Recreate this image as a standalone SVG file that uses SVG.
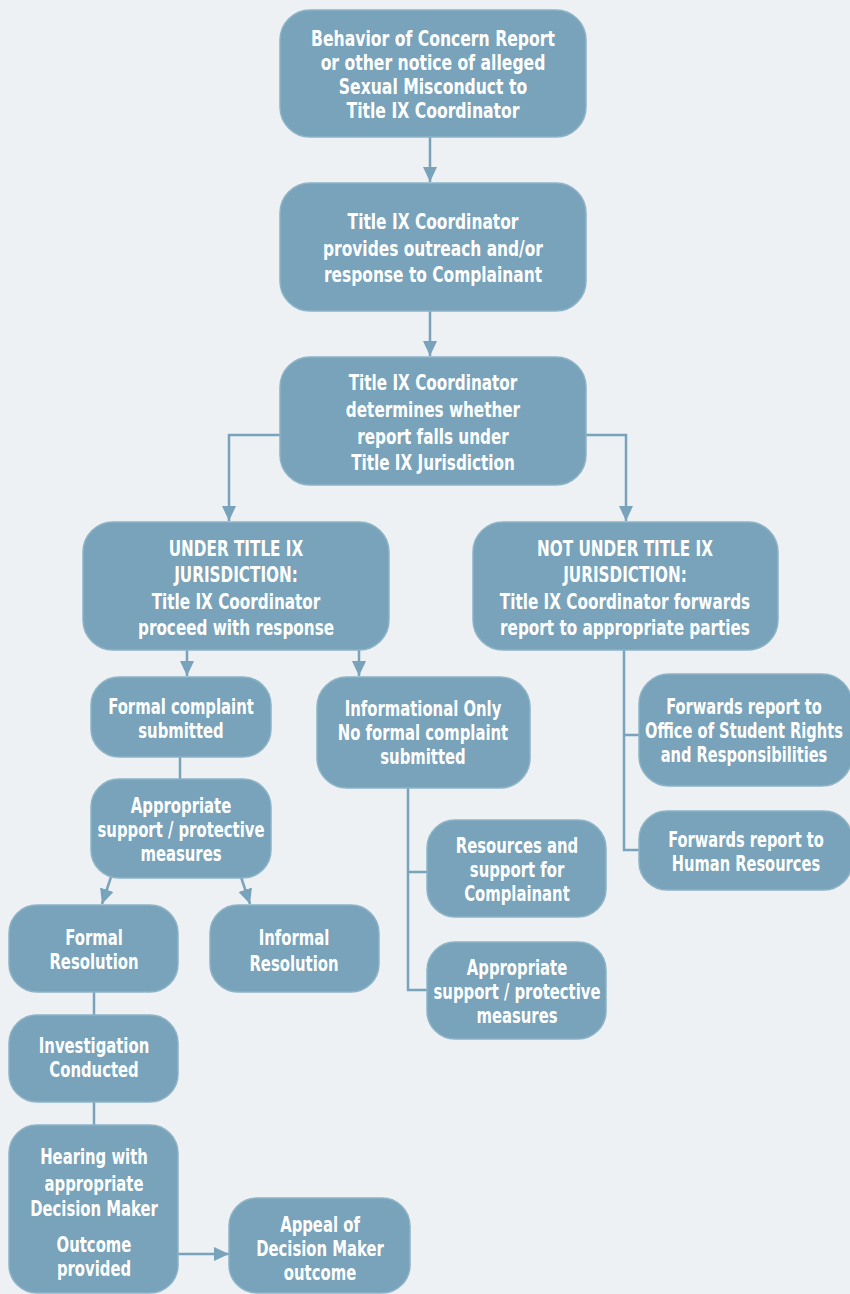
<svg xmlns="http://www.w3.org/2000/svg" width="850" height="1294" viewBox="0 0 850 1294">
<defs>
<style>
.box{fill:#78a3ba;stroke:#8db3c6;stroke-width:1.5}
.t{font-family:"DejaVu Sans",sans-serif;font-stretch:condensed;font-size:22px;font-weight:bold;fill:#ffffff;text-anchor:middle}
.c{stroke:#78a3ba;stroke-width:2.5;fill:none}
</style>
<marker id="ah" markerWidth="15" markerHeight="14" refX="15" refY="7" orient="auto" markerUnits="userSpaceOnUse"><path d="M0,0 L15,7 L0,14 z" fill="#78a3ba"/></marker>
</defs>
<rect width="850" height="1294" fill="#edf1f4"/>
<g id="connectors">
<path class="c" d="M430,137 V182" marker-end="url(#ah)"/>
<path class="c" d="M430,311 V356" marker-end="url(#ah)"/>
<path class="c" d="M280,435 H229 V521" marker-end="url(#ah)"/>
<path class="c" d="M586,435 H626 V521" marker-end="url(#ah)"/>
<path class="c" d="M187,650 V676" marker-end="url(#ah)"/>
<path class="c" d="M359,650 V676" marker-end="url(#ah)"/>
<path class="c" d="M180,757 V779"/>
<path class="c" d="M111,877 L102,904" marker-end="url(#ah)"/>
<path class="c" d="M241,877 L250,904" marker-end="url(#ah)"/>
<path class="c" d="M94,992 V1015"/>
<path class="c" d="M94,1102 V1125"/>
<path class="c" d="M178,1254 H229" marker-end="url(#ah)"/>
<path class="c" d="M624,650 V850 H640 M624,735 H640"/>
<path class="c" d="M408,788 V990 H427 M408,872 H427"/>
</g>
<g id="n1"><rect class="box" x="280" y="10" width="306" height="127" rx="30"/>
<text class="t" transform="translate(433 0) scale(0.79 1)"><tspan x="0" y="46">Behavior of Concern Report</tspan><tspan x="0" y="70">or other notice of alleged</tspan><tspan x="0" y="94">Sexual Misconduct to</tspan><tspan x="0" y="118">Title IX Coordinator</tspan></text></g>
<g id="n2"><rect class="box" x="280" y="183" width="306" height="128" rx="30"/>
<text class="t" transform="translate(433 0) scale(0.78 1)"><tspan x="0" y="229">Title IX Coordinator</tspan><tspan x="0" y="256">provides outreach and/or</tspan><tspan x="0" y="282">response to Complainant</tspan></text></g>
<g id="n3"><rect class="box" x="280" y="357" width="306" height="128" rx="30"/>
<text class="t" transform="translate(433 0) scale(0.77 1)"><tspan x="0" y="390">Title IX Coordinator</tspan><tspan x="0" y="417">determines whether</tspan><tspan x="0" y="444">report falls under</tspan><tspan x="0" y="470">Title IX Jurisdiction</tspan></text></g>
<g id="n4"><rect class="box" x="83" y="522" width="306" height="128" rx="30"/>
<text class="t" transform="translate(236 0) scale(0.77 1)"><tspan x="0" y="556">UNDER TITLE IX</tspan><tspan x="0" y="582">JURISDICTION:</tspan><tspan x="0" y="609">Title IX Coordinator</tspan><tspan x="0" y="635">proceed with response</tspan></text></g>
<g id="n5"><rect class="box" x="473" y="522" width="305" height="128" rx="30"/>
<text class="t" transform="translate(625 0) scale(0.77 1)"><tspan x="0" y="556">NOT UNDER TITLE IX</tspan><tspan x="0" y="582">JURISDICTION:</tspan><tspan x="0" y="609">Title IX Coordinator forwards</tspan><tspan x="0" y="635">report to appropriate parties</tspan></text></g>
<g id="n6"><rect class="box" x="91" y="677" width="180" height="80" rx="28"/>
<text class="t" transform="translate(181 0) scale(0.75 1)"><tspan x="0" y="714">Formal complaint</tspan><tspan x="0" y="738">submitted</tspan></text></g>
<g id="n7"><rect class="box" x="317" y="677" width="213" height="111" rx="30"/>
<text class="t" transform="translate(423 0) scale(0.75 1)"><tspan x="0" y="716">Informational Only</tspan><tspan x="0" y="740">No formal complaint</tspan><tspan x="0" y="764">submitted</tspan></text></g>
<g id="n8"><rect class="box" x="91" y="779" width="180" height="99" rx="28"/>
<text class="t" transform="translate(181 0) scale(0.75 1)"><tspan x="0" y="813">Appropriate</tspan><tspan x="0" y="837">support / protective</tspan><tspan x="0" y="861">measures</tspan></text></g>
<g id="n9"><rect class="box" x="9" y="905" width="169" height="87" rx="28"/>
<text class="t" transform="translate(94 0) scale(0.75 1)"><tspan x="0" y="945">Formal</tspan><tspan x="0" y="969">Resolution</tspan></text></g>
<g id="n10"><rect class="box" x="210" y="905" width="169" height="87" rx="28"/>
<text class="t" transform="translate(294 0) scale(0.75 1)"><tspan x="0" y="945">Informal</tspan><tspan x="0" y="971">Resolution</tspan></text></g>
<g id="n11"><rect class="box" x="9" y="1015" width="169" height="87" rx="28"/>
<text class="t" transform="translate(94 0) scale(0.75 1)"><tspan x="0" y="1053">Investigation</tspan><tspan x="0" y="1077">Conducted</tspan></text></g>
<g id="n12"><rect class="box" x="9" y="1125" width="169" height="168" rx="28"/>
<text class="t" transform="translate(94 0) scale(0.75 1)"><tspan x="0" y="1164">Hearing with</tspan><tspan x="0" y="1191">appropriate</tspan><tspan x="0" y="1216">Decision Maker</tspan><tspan x="0" y="1252">Outcome</tspan><tspan x="0" y="1276">provided</tspan></text></g>
<g id="n13"><rect class="box" x="229" y="1198" width="181" height="95" rx="28"/>
<text class="t" transform="translate(320 0) scale(0.75 1)"><tspan x="0" y="1232">Appeal of</tspan><tspan x="0" y="1256">Decision Maker</tspan><tspan x="0" y="1280">outcome</tspan></text></g>
<g id="n14"><rect class="box" x="639" y="674" width="213" height="112" rx="30"/>
<text class="t" transform="translate(744 0) scale(0.74 1)"><tspan x="0" y="714">Forwards report to</tspan><tspan x="0" y="738">Office of Student Rights</tspan><tspan x="0" y="762">and Responsibilities</tspan></text></g>
<g id="n15"><rect class="box" x="639" y="811" width="213" height="79" rx="28"/>
<text class="t" transform="translate(746 0) scale(0.74 1)"><tspan x="0" y="847">Forwards report to</tspan><tspan x="0" y="871">Human Resources</tspan></text></g>
<g id="n16"><rect class="box" x="427" y="820" width="179" height="97" rx="28"/>
<text class="t" transform="translate(517 0) scale(0.75 1)"><tspan x="0" y="853">Resources and</tspan><tspan x="0" y="877">support for</tspan><tspan x="0" y="901">Complainant</tspan></text></g>
<g id="n17"><rect class="box" x="427" y="942" width="179" height="97" rx="28"/>
<text class="t" transform="translate(517 0) scale(0.75 1)"><tspan x="0" y="975">Appropriate</tspan><tspan x="0" y="999">support / protective</tspan><tspan x="0" y="1023">measures</tspan></text></g>
</svg>
